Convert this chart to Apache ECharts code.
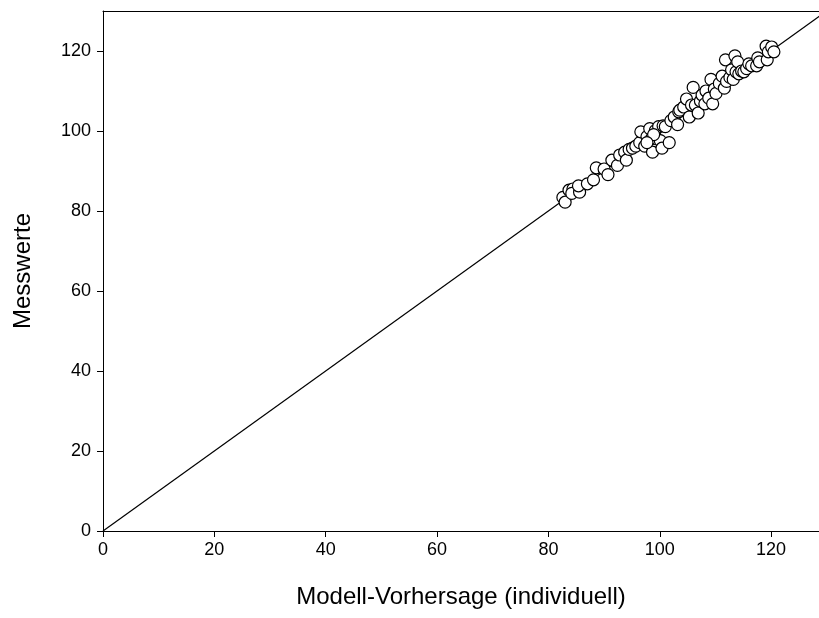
<!DOCTYPE html>
<html>
<head>
<meta charset="utf-8">
<script src="https://cdn.jsdelivr.net/npm/echarts@6/dist/echarts.min.js"></script>
<style>html,body{margin:0;padding:0;background:#fff}#c{width:819px;height:618px}</style>
</head>
<body>
<div id="c"></div>
<script>
const predX = [82.6,83.0,83.7,84.4,84.2,85.6,85.4,87.0,88.1,88.6,90.0,90.7,91.4,92.4,92.8,93.7,94.0,94.5,95.1,95.7,96.4,96.6,97.3,97.7,98.2,98.5,98.7,99.2,99.4,99.8,100.1,100.4,100.6,101.0,101.7,102.0,102.6,103.2,103.4,103.6,104.3,104.8,105.3,105.7,106.0,106.4,106.9,107.3,107.6,108.1,108.3,108.8,109.2,109.5,109.8,110.1,110.7,111.2,111.6,111.8,112.0,112.6,112.9,113.2,113.5,113.7,114.0,114.2,114.7,115.1,115.6,116.0,116.5,117.4,117.6,117.9,119.1,119.3,119.5,120.1,120.5,98.9,97.7];
const measY = [83.4,82.2,85.2,85.5,84.4,84.7,86.3,86.8,87.8,90.8,90.5,89.1,92.7,91.4,94.0,94.7,92.7,95.4,95.7,96.2,97.1,99.8,96.2,98.6,100.6,98.1,94.7,100.1,98.1,101.1,97.6,95.7,101.3,101.1,97.1,102.6,103.5,101.6,104.8,105.2,106.0,108.0,103.5,106.5,110.9,106.5,104.5,107.5,109.0,106.8,110.0,108.2,112.9,106.8,110.5,109.4,111.9,113.7,110.7,117.8,112.4,113.4,115.3,112.9,118.8,114.8,117.3,114.3,115.0,114.8,115.6,116.8,116.3,116.3,118.3,117.3,121.2,117.8,119.8,121.0,119.8,99.1,97.1];
const lineX = [0, 130];
const lineY = [0, 130];
const xTicks = [0, 20, 40, 60, 80, 100, 120];
const yTicks = [0, 20, 40, 60, 80, 100, 120];

const chart = echarts.init(document.getElementById('c'), null, {renderer: 'canvas'});
const font = '"Liberation Sans", Arial, sans-serif';
const fmt = v => (xTicks.includes(v) ? String(v) : '');
const fmtY = v => (yTicks.includes(v) ? String(v) : '');
chart.setOption({
  animation: false,
  backgroundColor: '#ffffff',
  grid: {left: 103, right: 0, top: 11, bottom: 87},
  xAxis: [{
    type: 'value', min: 0, max: 128.6, interval: 20,
    name: 'Modell-Vorhersage (individuell)', nameLocation: 'middle', nameGap: 54,
    nameTextStyle: {fontFamily: font, fontSize: 24, color: '#000'},
    axisLine: {show: true, onZero: false, lineStyle: {color: '#000', width: 1}},
    axisTick: {show: true, length: 6, customValues: xTicks, lineStyle: {color: '#000'}},
    axisLabel: {fontFamily: font, fontSize: 18, color: '#000', margin: 10, customValues: xTicks, formatter: fmt},
    splitLine: {show: false}
  }, {
    type: 'value', position: 'top', min: 0, max: 128.6,
    axisLine: {show: true, onZero: false, lineStyle: {color: '#000', width: 1}},
    axisTick: {show: false}, axisLabel: {show: false}, splitLine: {show: false}
  }],
  yAxis: {
    type: 'value', min: 0, max: 130, interval: 20,
    name: 'Messwerte', nameLocation: 'middle', nameGap: 68, nameRotate: 90,
    nameTextStyle: {fontFamily: font, fontSize: 24, color: '#000'},
    axisLine: {show: true, onZero: false, lineStyle: {color: '#000', width: 1}},
    axisTick: {show: true, length: 6, customValues: yTicks, lineStyle: {color: '#000'}},
    axisLabel: {fontFamily: font, fontSize: 18, color: '#000', margin: 12, customValues: yTicks, formatter: fmtY},
    splitLine: {show: false}
  },
  series: [{
    type: 'line', xAxisIndex: 0,
    data: lineX.map((x, i) => [x, lineY[i]]),
    showSymbol: false, symbol: 'none', clip: true,
    lineStyle: {color: '#000', width: 1.2}, z: 1
  }, {
    type: 'scatter', xAxisIndex: 0,
    data: predX.map((x, i) => [x, measY[i]]),
    symbol: 'circle', symbolSize: 12,
    itemStyle: {color: '#fff', borderColor: '#000', borderWidth: 1.2, opacity: 1},
    z: 2
  }]
});
</script>
</body>
</html>
